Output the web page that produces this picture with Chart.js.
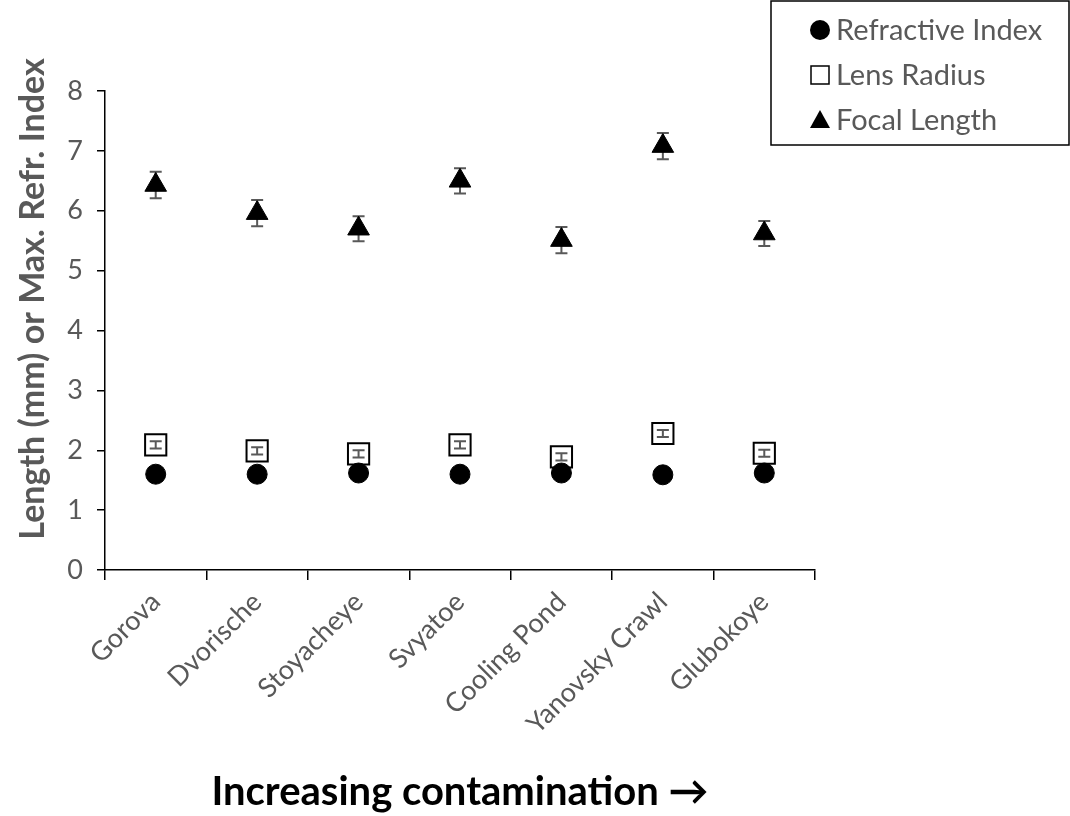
<!DOCTYPE html>
<html>
<head>
<meta charset="utf-8">
<script src="https://cdn.jsdelivr.net/npm/chart.js@4.4.1/dist/chart.umd.min.js"></script>
<style>
  html, body { margin: 0; padding: 0; background: #fff; }
  #wrap { width: 1070px; height: 816px; }
</style>
</head>
<body>
<div id="wrap"><canvas id="lensChart" width="1070" height="816"></canvas></div>
<script>
const sites = ['Gorova', 'Dvorische', 'Stoyacheye', 'Svyatoe', 'Cooling Pond', 'Yanovsky Crawl', 'Glubokoye'];

const refrIndex = [1.60, 1.60, 1.62, 1.60, 1.62, 1.59, 1.62];
const refrIndexErr = [0.01, 0.01, 0.01, 0.01, 0.01, 0.01, 0.01];

const lensRadius = [2.09, 1.99, 1.94, 2.09, 1.89, 2.28, 1.95];
const lensRadiusErr = [0.06, 0.06, 0.06, 0.06, 0.06, 0.06, 0.06];

const focalLength = [6.43, 5.96, 5.70, 6.50, 5.51, 7.08, 5.62];
const focalLengthErr = [0.22, 0.22, 0.21, 0.21, 0.22, 0.22, 0.21];

const yTicks = [0, 1, 2, 3, 4, 5, 6, 7, 8];
const yTitle = 'Length (mm) or Max. Refr. Index';

const FONT = 'Lato, "Open Sans", sans-serif';
const GREY = '#595959';

// error bars, drawn under the markers (circles hide theirs)
const errorBars = {
    id: 'errorBars',
    beforeDatasetsDraw(chart) {
        const ctx = chart.ctx;
        const yScale = chart.scales.y;
        ctx.save();
        ctx.strokeStyle = GREY;
        ctx.lineWidth = 2;
        chart.data.datasets.forEach((ds, i) => {
            const meta = chart.getDatasetMeta(i);
            meta.data.forEach((pt, j) => {
                const v = ds.data[j];
                const e = ds.err[j];
                const top = yScale.getPixelForValue(v + e);
                const bot = yScale.getPixelForValue(v - e);
                ctx.beginPath();
                ctx.moveTo(pt.x, top); ctx.lineTo(pt.x, bot);
                ctx.moveTo(pt.x - 6, top); ctx.lineTo(pt.x + 6, top);
                ctx.moveTo(pt.x - 6, bot); ctx.lineTo(pt.x + 6, bot);
                ctx.stroke();
            });
        });
        ctx.restore();
    }
};

// y title sits a bit above the axis centre in the original, so draw it here
const yTitlePlugin = {
    id: 'yTitlePlugin',
    afterDraw(chart) {
        const ctx = chart.ctx;
        ctx.save();
        ctx.translate(33, 299);
        ctx.rotate(-Math.PI / 2);
        ctx.font = 'bold 34px ' + FONT;
        ctx.fillStyle = GREY;
        ctx.textAlign = 'center';
        ctx.textBaseline = 'middle';
        ctx.fillText(yTitle, 0, 0);
        ctx.restore();
    }
};

// boxed legend in the top right corner
const boxLegend = {
    id: 'boxLegend',
    afterDraw(chart) {
        const ctx = chart.ctx;
        ctx.save();
        ctx.strokeStyle = '#000';
        ctx.lineWidth = 1.5;
        ctx.strokeRect(771, 1, 298, 144);
        ctx.font = '29px ' + FONT;
        ctx.textBaseline = 'middle';
        ctx.textAlign = 'left';
        const rows = [30, 75, 120];
        chart.data.datasets.forEach((ds, i) => {
            const y = rows[i];
            const x = 820;
            ctx.fillStyle = ds.pointStyle === 'rect' ? '#fff' : '#000';
            ctx.strokeStyle = '#000';
            ctx.lineWidth = 1.5;
            ctx.beginPath();
            if (ds.pointStyle === 'circle') {
                ctx.arc(x, y, 10, 0, Math.PI * 2);
                ctx.fill();
            } else if (ds.pointStyle === 'rect') {
                ctx.rect(x - 9, y - 9, 18, 18);
                ctx.fill(); ctx.stroke();
            } else {
                ctx.moveTo(x, y - 10);
                ctx.lineTo(x + 10, y + 8);
                ctx.lineTo(x - 10, y + 8);
                ctx.closePath();
                ctx.fill();
            }
            ctx.fillStyle = GREY;
            ctx.fillText(ds.label, 836, y + 1);
        });
        ctx.restore();
    }
};

new Chart(document.getElementById('lensChart'), {
    type: 'line',
    data: {
        labels: sites,
        datasets: [
            {
                label: 'Refractive Index',
                data: refrIndex,
                err: refrIndexErr,
                showLine: false,
                pointStyle: 'circle',
                pointRadius: 10,
                pointBackgroundColor: '#000',
                pointBorderColor: '#000',
                pointBorderWidth: 1
            },
            {
                label: 'Lens Radius',
                data: lensRadius,
                err: lensRadiusErr,
                showLine: false,
                pointStyle: 'rect',
                pointRadius: 15,
                pointBackgroundColor: 'rgba(255,255,255,0)',
                pointBorderColor: '#000',
                pointBorderWidth: 2
            },
            {
                label: 'Focal Length',
                data: focalLength,
                err: focalLengthErr,
                showLine: false,
                pointStyle: 'triangle',
                pointRadius: 12.5,
                pointBackgroundColor: '#000',
                pointBorderColor: '#000',
                pointBorderWidth: 1
            }
        ]
    },
    options: {
        responsive: false,
        animation: false,
        events: [],
        layout: { padding: { top: 91, right: 255, left: 0, bottom: 0 } },
        plugins: {
            legend: { display: false },
            tooltip: { enabled: false }
        },
        scales: {
            x: {
                offset: true,
                grid: {
                    offset: true,
                    drawOnChartArea: false,
                    color: '#000',
                    lineWidth: 1.5,
                    tickLength: 10
                },
                border: { color: '#000', width: 1.5 },
                ticks: {
                    color: GREY,
                    font: { family: FONT, size: 27 },
                    minRotation: 45,
                    maxRotation: 45,
                    padding: 6
                },
                title: {
                    display: true,
                    text: 'Increasing contamination \u2192',
                    color: '#000',
                    font: { family: FONT, size: 40, weight: 'bold' },
                    padding: { top: 20, bottom: 0 }
                },
                afterFit(scale) { scale.height = 246; }
            },
            y: {
                min: 0,
                max: 8,
                afterBuildTicks(scale) { scale.ticks = yTicks.map(v => ({ value: v })); },
                grid: {
                    drawOnChartArea: false,
                    color: '#000',
                    lineWidth: 1.5,
                    tickLength: 8
                },
                border: { color: '#000', width: 1.5 },
                ticks: {
                    color: GREY,
                    font: { family: FONT, size: 27 },
                    padding: 14
                },
                title: { display: false },
                afterFit(scale) { scale.width = 105; }
            }
        }
    },
    plugins: [errorBars, yTitlePlugin, boxLegend]
});
</script>
</body>
</html>
